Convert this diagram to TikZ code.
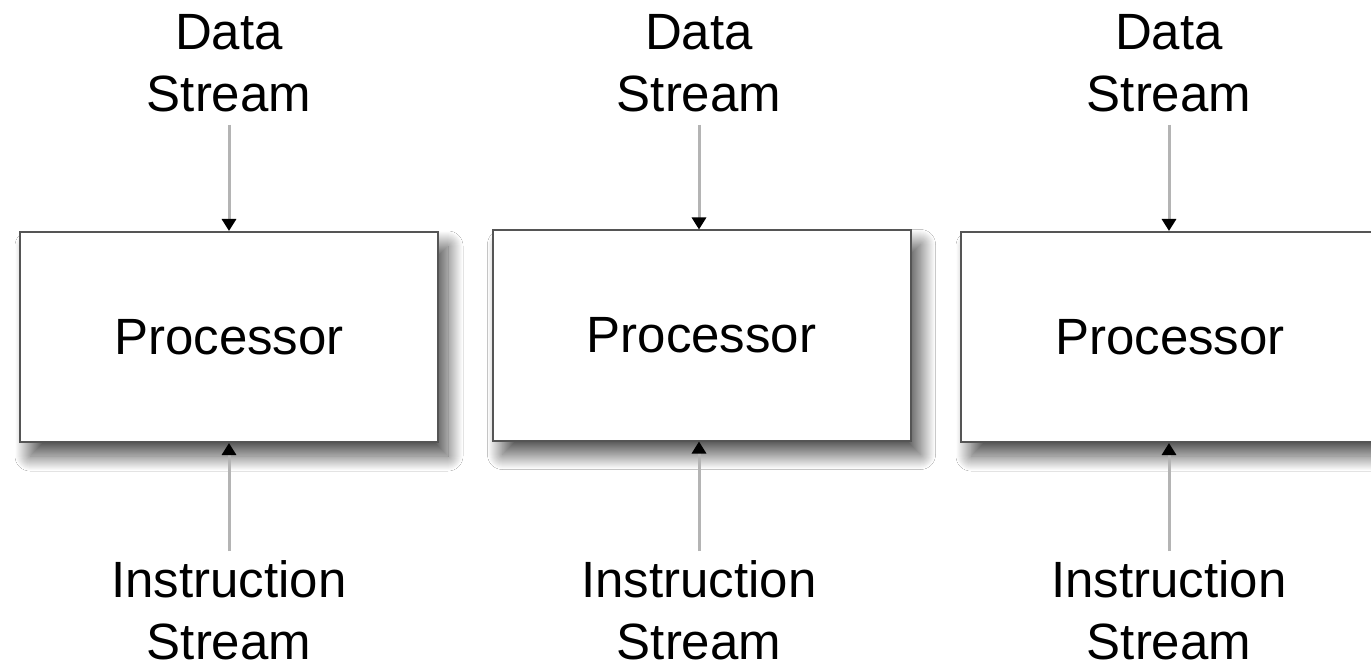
\documentclass[tikz,border=0pt]{standalone}
\usepackage{fontspec}
\setmainfont{Liberation Sans}
\usetikzlibrary{arrows.meta,shadows.blur}
\definecolor{linegray}{HTML}{B4B4B4}
\definecolor{boxedge}{HTML}{555555}
\tikzset{
  proc/.style={draw=boxedge, line width=2pt, fill=white, minimum width=418pt, minimum height=210pt,
    inner sep=0pt, font=\fontsize{51}{62}\selectfont,
    blur shadow={shadow xshift=10pt, shadow yshift=-14pt, shadow blur radius=15pt,
      shadow blur steps=30, shadow opacity=70}},
  lbl/.style={align=center, inner sep=6pt, font=\fontsize{51}{62}\selectfont},
  flow/.style={draw=linegray, line width=3pt,
    -{Triangle[width=14pt, length=12pt, color=black, fill=black]}}
}
\begin{document}
\begin{tikzpicture}[x=1pt, y=-1pt]
  \clip (0,0) rectangle (1371,668);
  \fill[white] (0,0) rectangle (1371,668);
  \node[proc] (p1) at (229,337) {Processor};
  \node[proc] (p2) at (701.5,335.5) {Processor};
  \node[proc] (p3) at (1170,337) {Processor};
  \foreach \i/\x in {1/229, 2/699, 3/1169} {
    \node[lbl] (d\i) at (\x,63) {Data\\Stream};
    \node[lbl] (s\i) at (\x,610) {Instruction\\Stream};
  }
  \draw[flow, shorten <=7pt] (d1.south) -- (p1.north);
  \draw[flow, shorten <=7pt] (d2.south) -- (d2.south |- p2.north);
  \draw[flow, shorten <=7pt] (d3.south) -- (d3.south |- p3.north);
  \draw[flow, shorten <=3pt] (s1.north) -- (p1.south);
  \draw[flow, shorten <=3pt] (s2.north) -- (s2.north |- p2.south);
  \draw[flow, shorten <=3pt] (s3.north) -- (s3.north |- p3.south);
\end{tikzpicture}
\end{document}
